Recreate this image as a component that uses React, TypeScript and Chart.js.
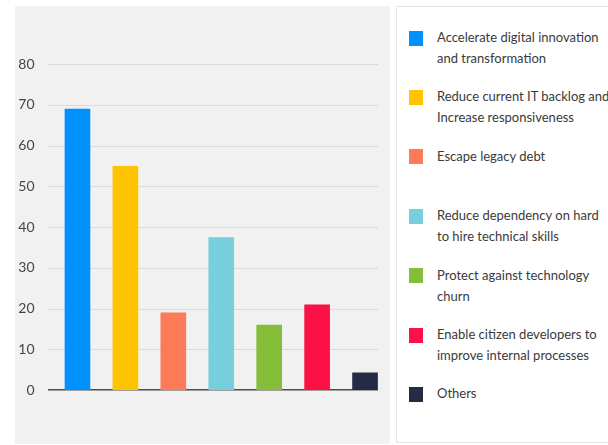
import React, { useEffect, useRef } from "react";
import { Chart, registerables } from "chart.js";

Chart.register(...registerables);

const legendLines: string[][] = [
  ["Accelerate digital innovation", "and transformation"],
  ["Reduce current IT backlog and", "Increase responsiveness"],
  ["Escape legacy debt"],
  ["Reduce dependency on hard", "to hire technical skills"],
  ["Protect against technology", "churn"],
  ["Enable citizen developers to", "improve internal processes"],
  ["Others"],
];
const categories: string[] = legendLines.map((l) => l.join(" "));
const values: number[] = [69, 55, 19, 37.5, 16, 21, 4.3];
const colors: string[] = ["#0091FF", "#FFC400", "#FC7A57", "#77CEDD", "#84BE39", "#FB1145", "#262B45"];
const yMin = 0;
const yMax = 80;
const yStep = 10;

const FONT = "Lato, 'Open Sans', sans-serif";

const gridPlugin = {
  id: "customGrid",
  beforeDatasetsDraw(chart: any) {
    const { ctx, chartArea } = chart;
    const y = chart.scales.y;
    ctx.save();
    y.ticks.forEach((t: any) => {
      const py = Math.round(y.getPixelForValue(t.value));
      const isZero = t.value === 0;
      ctx.beginPath();
      ctx.strokeStyle = isZero ? "#4d4d4d" : "#dadada";
      ctx.lineWidth = isZero ? 1.5 : 1;
      ctx.moveTo(chartArea.left - 5.5, isZero ? py - 0.25 : py + 0.5);
      ctx.lineTo(chartArea.right - 11, isZero ? py - 0.25 : py + 0.5);
      ctx.stroke();
    });
    ctx.restore();
  },
};

function BarChart() {
  const ref = useRef<HTMLCanvasElement | null>(null);
  useEffect(() => {
    if (!ref.current) return;
    const chart = new Chart(ref.current, {
      type: "bar",
      data: {
        labels: categories,
        datasets: [
          {
            data: values,
            backgroundColor: colors,
            borderWidth: 0,
            barPercentage: 0.535,
            categoryPercentage: 1,
          },
        ],
      },
      options: {
        responsive: false,
        maintainAspectRatio: false,
        animation: false,
        layout: { padding: { top: 58, bottom: 54, left: 0, right: 1 } },
        plugins: { legend: { display: false }, tooltip: { enabled: false } },
        scales: {
          x: { display: false, offset: true },
          y: {
            min: yMin,
            max: yMax,
            grid: { display: false },
            border: { display: false },
            afterFit: (scale: any) => {
              scale.width = 38.5;
            },
            ticks: {
              stepSize: yStep,
              padding: 11,
              color: "#454545",
              font: { family: FONT, size: 14 },
            },
          },
        },
      },
      plugins: [gridPlugin],
    });
    return () => chart.destroy();
  }, []);
  return <canvas ref={ref} width={375} height={438} style={{ position: "absolute", left: 0, top: 0 }} />;
}

export default function App() {
  return (
    <div style={{ position: "fixed", left: 0, top: 0, width: 608, height: 445, overflow: "hidden", background: "#fff", fontFamily: FONT }}>
      <div style={{ position: "absolute", left: 15, top: 6, width: 375, height: 438, background: "#f1f1f1" }}>
        <BarChart />
      </div>
      <div
        style={{
          position: "absolute",
          left: 396,
          top: 6,
          width: 240,
          height: 437,
          border: "1px solid #e6e6e6",
          background: "#fff",
          boxSizing: "border-box",
        }}
      >
        {legendLines.map((lines, i) => (
          <div key={i} style={{ position: "absolute", left: 0, top: 20 + i * 59.4, height: 59.4, width: "100%" }}>
            <div style={{ position: "absolute", left: 12, top: 3.5, width: 14, height: 15, background: colors[i] }} />
            <div style={{ position: "absolute", left: 40, top: 0, fontSize: 13, lineHeight: "21px", color: "#3a3a3a", whiteSpace: "nowrap" }}>
              {lines.map((l, j) => (
                <div key={j}>{l}</div>
              ))}
            </div>
          </div>
        ))}
      </div>
    </div>
  );
}
